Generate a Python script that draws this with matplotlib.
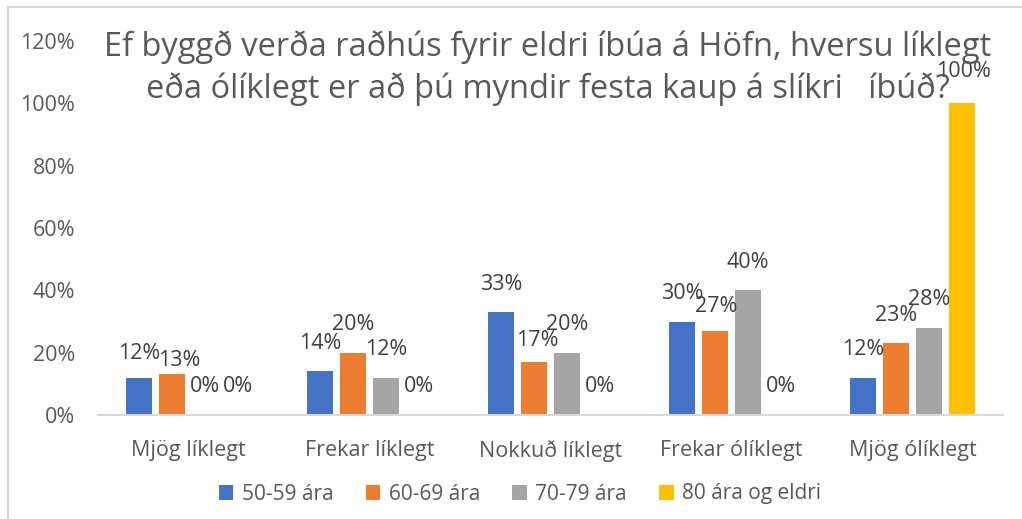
import matplotlib
matplotlib.use("Agg")
import matplotlib.pyplot as plt
import numpy as np
from matplotlib.lines import Line2D

plt.rcParams['font.family'] = ['Open Sans', 'DejaVu Sans']

# -- data
categories = ["Mjög líklegt", "Frekar líklegt", "Nokkuð líklegt",
              "Frekar ólíklegt", "Mjög ólíklegt"]
series_names = ["50-59 ára", "60-69 ára", "70-79 ára", "80 ára og eldri"]
age_50_59 = [12, 14, 33, 30, 12]
age_60_69 = [13, 20, 17, 27, 23]
age_70_79 = [0, 12, 20, 40, 28]
age_80_plus = [0, 0, 0, 0, 100]
yticks = [0, 20, 40, 60, 80, 100, 120]
title = ("Ef byggð verða raðhús fyrir eldri íbúa á Höfn, hversu líklegt\n"
         "eða ólíklegt er að þú myndir festa kaup á slíkri   íbúð?")

colors = ["#4472C4", "#ED7D31", "#A5A5A5", "#FFC000"]
grey_txt = "#595959"
# -- label nudges (pixels) where Excel shifted labels to avoid overlap
nudge = {(1, 0): (7, 14), (1, 2): (3, 6), (1, 3): (1, 4), (0, 0): (0, 4),
         (3, 4): (2, -4)}

W, H = 1022, 519
fig = plt.figure(figsize=(W / 100, H / 100), dpi=100)
ax = fig.add_axes([98 / W, 104 / H, 905 / W, 374 / H])

all_series = [age_50_59, age_60_69, age_70_79, age_80_plus]
x = np.arange(len(categories))
step, width = 0.182, 0.144
for i, vals in enumerate(all_series):
    xs = x + (i - 1.5) * step
    ax.bar(xs, vals, width=width, color=colors[i], label=series_names[i], zorder=2)
    for j, v in enumerate(vals):
        dx, dy = nudge.get((i, j), (0, 0))
        ax.annotate(f"{v}%", (xs[j], v), xytext=(dx, 28 - dy),
                    textcoords="offset pixels", ha="center", va="center",
                    fontsize=15.5, color="#404040", zorder=3)

ax.set_xlim(-0.5, len(categories) - 0.5)
ax.set_ylim(0, 120)
ax.set_yticks(yticks)
ax.set_yticklabels([f"{t}%" for t in yticks])
ax.set_xticks(x)
ax.set_xticklabels(categories)
ax.tick_params(axis="y", length=0, pad=16.5, labelsize=15.5, labelcolor=grey_txt)
ax.tick_params(axis="x", length=0, pad=18, labelsize=15.5, labelcolor=grey_txt)
for s in ["top", "right", "left"]:
    ax.spines[s].set_visible(False)
ax.spines["bottom"].set_color("#D9D9D9")
ax.spines["bottom"].set_linewidth(1.5)

fig.text(548 / W, 1 - 68 / H, title, ha="center", va="center",
         fontsize=23.5, color=grey_txt, linespacing=1.35)

fig.legend(loc="center", bbox_to_anchor=(520 / W, 1 - 494 / H), ncol=4,
           frameon=False, fontsize=15, labelcolor=grey_txt,
           handlelength=0.7, handleheight=0.7, handletextpad=0.4,
           columnspacing=1.55)

# -- chart area border (left and top edges visible in the crop)
fig.add_artist(Line2D([8 / W, 8 / W], [0, 1 - 7 / H], color="#D9D9D9", lw=1.5))
fig.add_artist(Line2D([8 / W, 1], [1 - 7 / H, 1 - 7 / H], color="#D9D9D9", lw=1.5))

fig.savefig("out.png", dpi=100)
